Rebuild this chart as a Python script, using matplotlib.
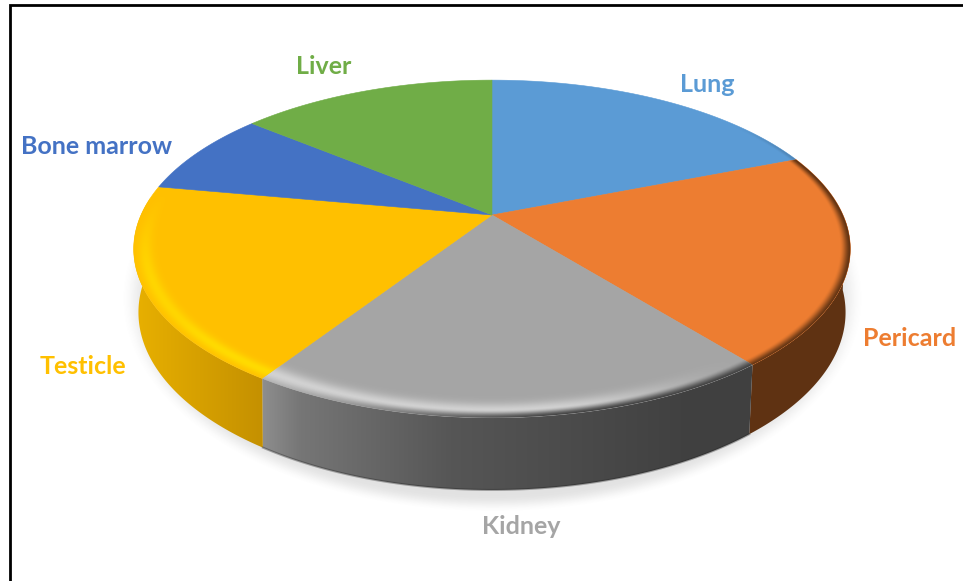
import numpy as np
import matplotlib
matplotlib.use("Agg")
import matplotlib.pyplot as plt
from matplotlib.colors import to_rgb
from matplotlib.patches import Polygon

# clockwise from 12 o'clock (percent)
labels = ["Lung", "Pericard", "Kidney", "Testicle", "Bone marrow", "Liver"]
values = [19.0, 20.2, 19.9, 18.7, 8.1, 14.0]
colors = ["#5B9BD5", "#ED7D31", "#A5A5A5", "#FFC000", "#4472C4", "#70AD47"]
label_x = [707, 910, 521, 83, 97, 324]
label_y = [85, 338, 526, 367, 147, 67]

# bevel colours, None = no highlight
highlight = [None, None, "#D2D2D2", "#FFDB00", None, None]
edge_dark = ["#3F6C95", "#5F3212", "#404040", "#FFC000", "#4472C4", "#70AD47"]
bump_width = [0.2, 0.2, 0.3, 0.2, 0.2, 0.2]

# side shading, x pixel -> colour
side_stops = {
    "Pericard": ([700, 850], ["#5F3212", "#5F3212"]),
    "Kidney": ([262, 300, 450, 680, 750], ["#8E8E8E", "#767676", "#565656", "#414141", "#404040"]),
    "Testicle": ([134, 264], ["#E8B000", "#C49000"]),
}

# perspective of top and bottom rim
CX = 492
TOP = dict(cy=215, a=351, b=162, p=0.201)
BOT = dict(cy=284, a=349, b=173, p=0.16)
# the joints on the side stand nearly upright, so the bottom rim angle is nudged
JOINT_PK = np.deg2rad(-1.6)
JOINT_KT = np.deg2rad(1.8)


def project(theta, prm, r=1.0):
    xx = r * np.sin(theta)
    yy = r * np.cos(theta)
    d = 1 + prm["p"] * yy
    return CX + prm["a"] * xx / d, prm["cy"] - prm["b"] * yy / d


def smooth(e0, e1, v):
    t = np.clip((v - e0) / (e1 - e0), 0, 1)
    return t * t * (3 - 2 * t)


fig = plt.figure(figsize=(9.63, 5.81), dpi=100)
ax = fig.add_axes([0, 0, 1, 1])

# soft shadow under the pie
gx, gy = np.meshgrid(np.arange(0, 963), np.arange(0, 581))
re = np.sqrt(((gx - 492) / 368.0) ** 2 + ((gy - 298) / 212.0) ** 2)
shadow = np.zeros(gx.shape + (4,))
shadow[..., :3] = 0.45
shadow[..., 3] = 0.2 * (1 - smooth(0.93, 1.01, re))
ax.imshow(shadow, extent=(0, 963, 581, 0), aspect="auto", zorder=1)

edges = np.deg2rad(np.cumsum([0] + values) / np.sum(values) * 360)

# sides
for i, name in enumerate(labels):
    if name not in side_stops:
        continue
    t0, t1 = edges[i], edges[i + 1]
    b0, b1 = t0, t1
    if name == "Pericard":
        t0 = b0 = np.deg2rad(92)
        b1 = t1 + JOINT_PK
    if name == "Kidney":
        b0 = t0 + JOINT_PK
        b1 = t1 + JOINT_KT
    if name == "Testicle":
        b0 = t0 + JOINT_KT
        t1 = b1 = np.deg2rad(276)
    xt, yt = project(np.linspace(t0, t1, 120), TOP)
    xb, yb = project(np.linspace(b0, b1, 120), BOT)
    poly = Polygon(np.r_[np.c_[xt, yt], np.c_[xb, yb][::-1]], closed=True, fc="none", ec="none", zorder=2)
    ax.add_patch(poly)
    xs, cols = side_stops[name]
    grid = np.arange(0, 963)
    rgb = np.array([to_rgb(c) for c in cols])
    row = np.stack([np.interp(grid, xs, rgb[:, k]) for k in range(3)], axis=-1)
    im = ax.imshow(row[None, :, :], extent=(0, 963, 581, 0), aspect="auto", zorder=2)
    im.set_clip_path(poly)
    # darker bottom edge on the grey part only
    if name == "Kidney":
        ax.plot(xb, yb, color="#202020", lw=1.5, alpha=0.35, zorder=2.5)

# top surface: same inverse projection as the rim
vp = (TOP["cy"] - gy) / TOP["b"]
up = (gx - CX) / TOP["a"]
Y = vp / (1 - TOP["p"] * vp)
X = up * (1 + TOP["p"] * Y)
rad = np.sqrt(X ** 2 + Y ** 2)
t = np.clip((rad - 0.9) / 0.1, 0, 1)
front = smooth(0.1, 0.75, -Y)
left = smooth(0.35, -0.55, X)

for i, name in enumerate(labels):
    th = np.linspace(edges[i], edges[i + 1], 150)
    xr, yr = project(th, TOP)
    pts = np.r_[[[CX, TOP["cy"]]], np.c_[xr, yr]]
    wedge = Polygon(pts, closed=True, fc=colors[i], ec=colors[i], lw=0.4, zorder=3)
    ax.add_patch(wedge)

    # bevel near the rim
    layer = np.zeros(gx.shape + (4,))
    if highlight[i] is not None:
        bump = np.exp(-((t - 0.7) / bump_width[i]) ** 2)
        alpha = bump * np.maximum(front, smooth(0.2, -0.4, Y) * left * 0.8)
        if name == "Kidney":
            alpha = alpha * smooth(0.62, 0.1, X)
        layer[..., :3] = to_rgb(highlight[i])
        layer[..., 3] = np.clip(alpha, 0, 1)
        im = ax.imshow(layer, extent=(0, 963, 581, 0), aspect="auto", zorder=3.2)
        im.set_clip_path(wedge)
    dark = np.zeros(gx.shape + (4,))
    dark[..., :3] = to_rgb(edge_dark[i])
    if name == "Pericard":
        dark[..., 3] = smooth(0.7, 1.0, t)
    if name == "Kidney":
        dark[..., 3] = smooth(0.65, 1.0, t) * smooth(-0.6, 0.2, X)
    if name == "Lung":
        dark[..., 3] = smooth(0.8, 1.0, t) * smooth(0.75, 0.95, X) * 0.5
    im = ax.imshow(dark, extent=(0, 963, 581, 0), aspect="auto", zorder=3.3)
    im.set_clip_path(wedge)

for i, name in enumerate(labels):
    ax.text(label_x[i], label_y[i], name, color=colors[i], fontsize=18, fontweight="bold",
            family="Lato", ha="center", va="center", zorder=5)

# frame of the screenshot
ax.plot([10, 10, 963], [581, 5, 5], color="black", lw=2, solid_joinstyle="miter", zorder=6)

ax.set_xlim(0, 963)
ax.set_ylim(581, 0)
ax.axis("off")
fig.savefig("out.png", dpi=100)
